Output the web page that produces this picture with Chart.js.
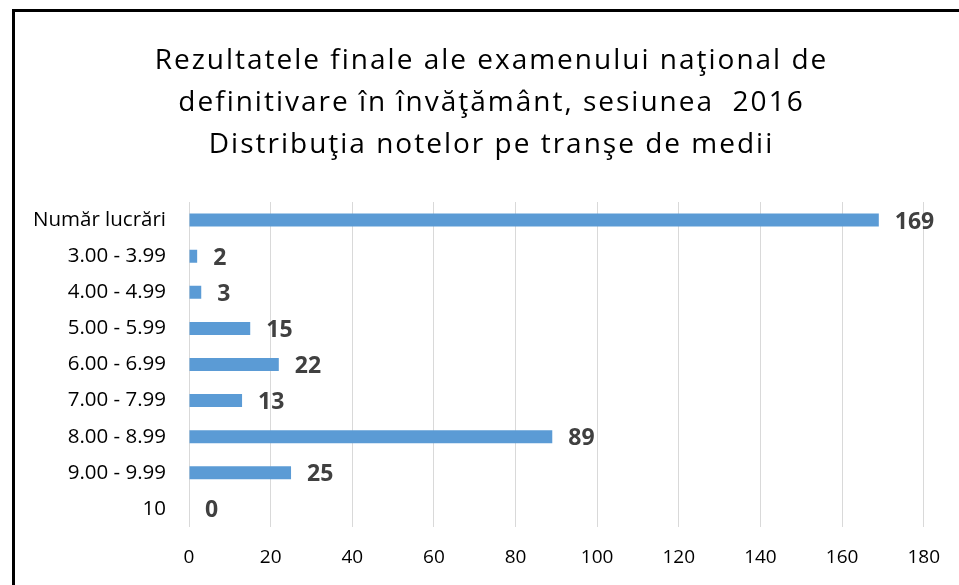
<!DOCTYPE html>
<html>
<head>
<meta charset="utf-8">
<script src="https://cdn.jsdelivr.net/npm/chart.js@4/dist/chart.umd.min.js"></script>
<style>
    html, body {
        margin: 0;
        padding: 0;
        background: #ffffff;
        overflow: hidden;
    }
    #wrap {
        position: absolute;
        left: 0;
        top: 0;
        width: 959px;
        height: 585px;
    }
    #frame {
        position: absolute;
        left: 12px;
        top: 9px;
        width: 960px;
        height: 600px;
        border-left: 3px solid #000;
        border-top: 3px solid #000;
    }
</style>
</head>
<body>
<div id="wrap">
    <canvas id="barChart" width="959" height="585"></canvas>
    <div id="frame"></div>
</div>
<script>
const titleLines = [
    "Rezultatele finale ale examenului naţional de",
    "definitivare în învăţământ, sesiunea  2016",
    "Distribuţia notelor pe tranşe de medii"
];

const trancheLabels = [
    "Număr lucrări",
    "3.00 - 3.99",
    "4.00 - 4.99",
    "5.00 - 5.99",
    "6.00 - 6.99",
    "7.00 - 7.99",
    "8.00 - 8.99",
    "9.00 - 9.99",
    "10"
];

const trancheData = [169, 2, 3, 15, 22, 13, 89, 25, 0];

const axisMin = 0;
const axisMax = 180;
const axisStep = 20;

const fontFamily = "'Open Sans', Lato, sans-serif";

// titlul: litere mai rasfirate si centrat putin mai la dreapta
const titleSpacing = {
    id: "titleSpacing",
    afterLayout(chart) {
        const block = chart.titleBlock;
        if (!block) return;
        block.left = 56;
        if (block._spaced) return;
        const orig = block.draw;
        block.draw = function () {
            const ctx = chart.ctx;
            ctx.save();
            ctx.letterSpacing = "2px";
            orig.apply(this, arguments);
            ctx.restore();
        };
        block._spaced = true;
    }
};

// valorile scrise la capatul barelor
const valueLabels = {
    id: "valueLabels",
    afterDatasetsDraw(chart) {
        const ctx = chart.ctx;
        const meta = chart.getDatasetMeta(0);
        ctx.save();
        ctx.font = "bold 23px " + fontFamily;
        ctx.fillStyle = "#404040";
        ctx.textAlign = "left";
        ctx.textBaseline = "middle";
        meta.data.forEach((bar, i) => {
            ctx.fillText(
                String(trancheData[i]),
                bar.x + 16,
                bar.y + 2
            );
        });
        ctx.restore();
    }
};

new Chart(
    document.getElementById("barChart"),
    {
        type: "bar",

        data: {
            labels: trancheLabels,

            datasets: [{
                data: trancheData,
                backgroundColor: "#5b9bd5",
                categoryPercentage: 1,
                barPercentage: 0.36
            }]
        },

        options: {
            responsive: false,
            animation: false,
            indexAxis: "y",

            layout: {
                padding: { left: 15, right: 32, top: 0, bottom: 0 }
            },

            plugins: {
                legend: { display: false },
                tooltip: { enabled: false },
                title: {
                    display: true,
                    text: titleLines,
                    color: "#000000",
                    font: {
                        family: fontFamily,
                        size: 28,
                        weight: "normal",
                        lineHeight: 1.5
                    },
                    padding: { top: 40, bottom: 36 }
                }
            },

            scales: {
                x: {
                    min: axisMin,
                    max: axisMax,
                    border: { display: false },
                    grid: {
                        color: "#d9d9d9",
                        drawTicks: false
                    },
                    ticks: {
                        stepSize: axisStep,
                        padding: 19,
                        color: "#000000",
                        font: { family: fontFamily, size: 19 }
                    },
                    afterFit(scale) {
                        scale.height = 58;
                    }
                },
                y: {
                    border: { display: false },
                    grid: { display: false, drawTicks: false },
                    ticks: {
                        padding: 23,
                        color: "#000000",
                        font: { family: fontFamily, size: 20.5 }
                    },
                    afterFit(scale) {
                        scale.width = 174;
                    }
                }
            }
        },

        plugins: [titleSpacing, valueLabels]
    }
);
</script>
</body>
</html>
